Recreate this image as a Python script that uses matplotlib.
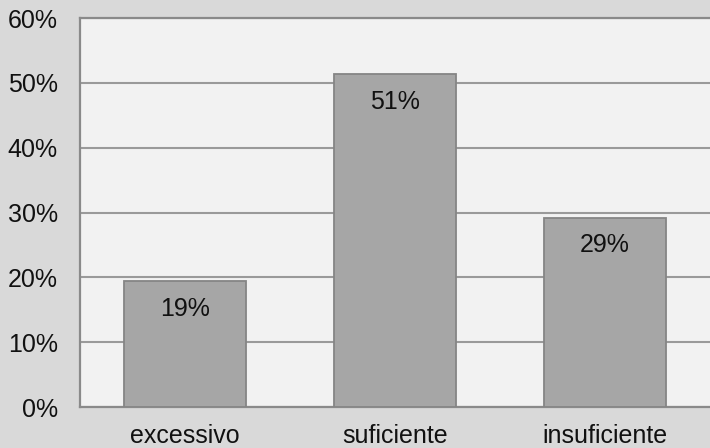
import matplotlib
matplotlib.use("Agg")
import matplotlib.pyplot as plt
from matplotlib.ticker import FuncFormatter

categories = ["excessivo", "suficiente", "insuficiente"]
shares = [19.4, 51.4, 29.2]
yticks = [0, 10, 20, 30, 40, 50, 60]

plt.rcParams["font.family"] = ["Liberation Sans", "DejaVu Sans"]

fig = plt.figure(figsize=(7.1, 4.48), dpi=100, facecolor="#d9d9d9")
ax = fig.add_axes([80 / 710, 41 / 448, 630 / 710, 389 / 448])
ax.set_facecolor("#f2f2f2")

x = list(range(len(categories)))
bars = ax.bar(x, shares, width=0.58, color="#a6a6a6", edgecolor="#858585",
              linewidth=1.3, zorder=3)

for rect, v in zip(bars, shares):
    ax.annotate(f"{round(v)}%", xy=(rect.get_x() + rect.get_width() / 2, v),
                xytext=(0, -20), textcoords="offset points",
                ha="center", va="center", fontsize=18, color="#111111", zorder=4)

ax.set_xlim(-0.5, len(categories) - 0.5)
ax.set_ylim(0, 60)
ax.set_yticks(yticks)
ax.yaxis.set_major_formatter(FuncFormatter(lambda v, p: f"{v:.0f}%"))
ax.set_xticks(x)
ax.set_xticklabels(categories)
ax.tick_params(axis="y", length=0, pad=16, labelsize=18, labelcolor="#111111")
ax.tick_params(axis="x", length=0, pad=12, labelsize=18, labelcolor="#111111")

ax.yaxis.grid(True, color="#9a9a9a", linewidth=1.5, zorder=0)
ax.set_axisbelow(True)
for side in ["right"]:
    ax.spines[side].set_visible(False)
for side in ["left", "bottom", "top"]:
    ax.spines[side].set_color("#8a8a8a")
    ax.spines[side].set_linewidth(1.6)

fig.savefig("out.png", dpi=100, facecolor=fig.get_facecolor())
